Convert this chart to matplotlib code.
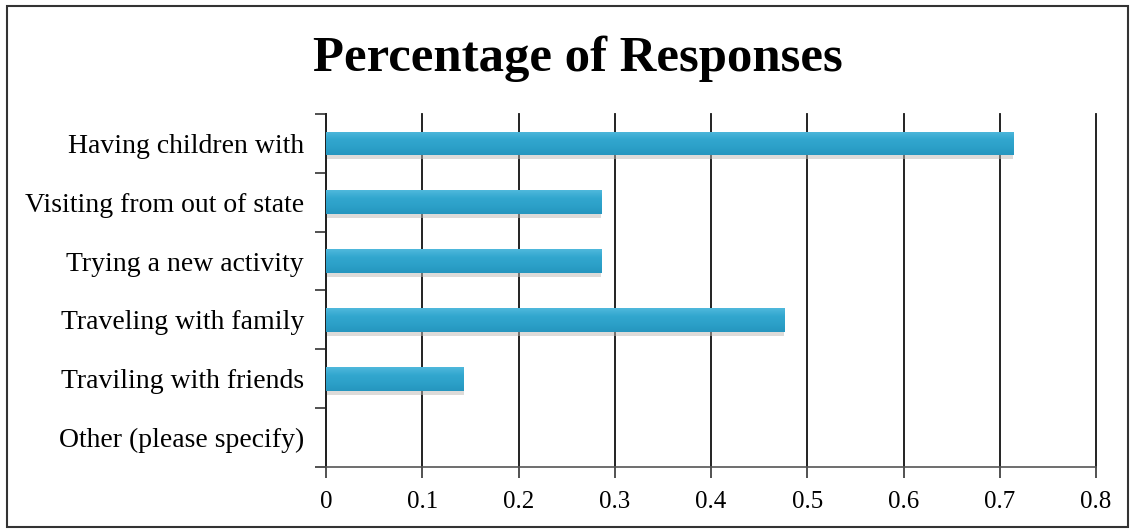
import numpy as np
import matplotlib.pyplot as plt
from matplotlib.colors import LinearSegmentedColormap
from matplotlib.patches import Rectangle

# survey answers, top to bottom
categories = ["Having children with", "Visiting from out of state",
              "Trying a new activity", "Traveling with family",
              "Traviling with friends", "Other (please specify)"]
shares = [0.714, 0.286, 0.286, 0.476, 0.143, 0.0]
xticks = [0, 0.1, 0.2, 0.3, 0.4, 0.5, 0.6, 0.7, 0.8]

plt.rcParams['font.family'] = ['Liberation Serif', 'DejaVu Serif']

fig = plt.figure(figsize=(11.34, 5.31), dpi=100)
ax = fig.add_axes([0.2875, 0.1205, 0.679, 0.665])

y = np.arange(len(categories))
bar_h = 0.4
# soft shadow under each bar
ax.barh(y + 0.07, shares, height=bar_h, color='#bdb8b4', alpha=0.5, zorder=2, linewidth=0)
bars = ax.barh(y, shares, height=bar_h, color='#2ea4cc', zorder=3, linewidth=0)

# vertical shading inside each bar: light at the top, a bit darker at the bottom
shade = LinearSegmentedColormap.from_list('shade', ['#4fb8dc', '#32a7cf', '#2ca0c8', '#2596bf'])
grad = np.linspace(0, 1, 64).reshape(-1, 1)
for b in bars:
    x0, y0 = b.get_x(), b.get_y()
    w, h = b.get_width(), b.get_height()
    if w <= 0:
        continue
    im = ax.imshow(grad, cmap=shade, aspect='auto', zorder=4,
                   extent=(x0, x0 + w, y0 + h, y0), origin='upper')
    im.set_clip_path(b)

ax.set_xlim(0, 0.8)
ax.set_ylim(len(categories) - 0.5, -0.5)

ax.set_xticks(xticks)
ax.set_xticklabels([str(t) for t in xticks], fontsize=18)
ax.tick_params(axis='x', length=8, width=1.2, color='#333333', pad=9)

# y ticks between categories, labels centered on bars
ax.set_yticks(np.arange(-0.5, len(categories)), labels=[])
ax.set_yticks(y, minor=True)
ax.set_yticklabels(categories, minor=True, fontsize=20)
ax.tick_params(axis='y', which='major', length=8, width=1.2, color='#333333')
ax.tick_params(axis='y', which='minor', length=0, pad=16)

ax.grid(axis='x', color='#111111', linewidth=1.3, zorder=1)
for gl in ax.get_xgridlines():
    gl.set_clip_on(False)
ax.set_axisbelow(True)
for side in ('top', 'right'):
    ax.spines[side].set_visible(False)
ax.spines['left'].set_linewidth(1.4)
ax.spines['left'].set_color('#222222')
ax.spines['bottom'].set_linewidth(1.2)
ax.spines['bottom'].set_color('#555555')

fig.text(0.51, 0.866, "Percentage of Responses", ha='center', va='baseline',
         fontsize=36.5, fontweight='bold')

# frame around the whole chart
fig.patches.append(Rectangle((0.006, 0.008), 0.989, 0.981, transform=fig.transFigure,
                             fill=False, edgecolor='#333333', linewidth=1.5))

fig.savefig('out.png', dpi=100)
